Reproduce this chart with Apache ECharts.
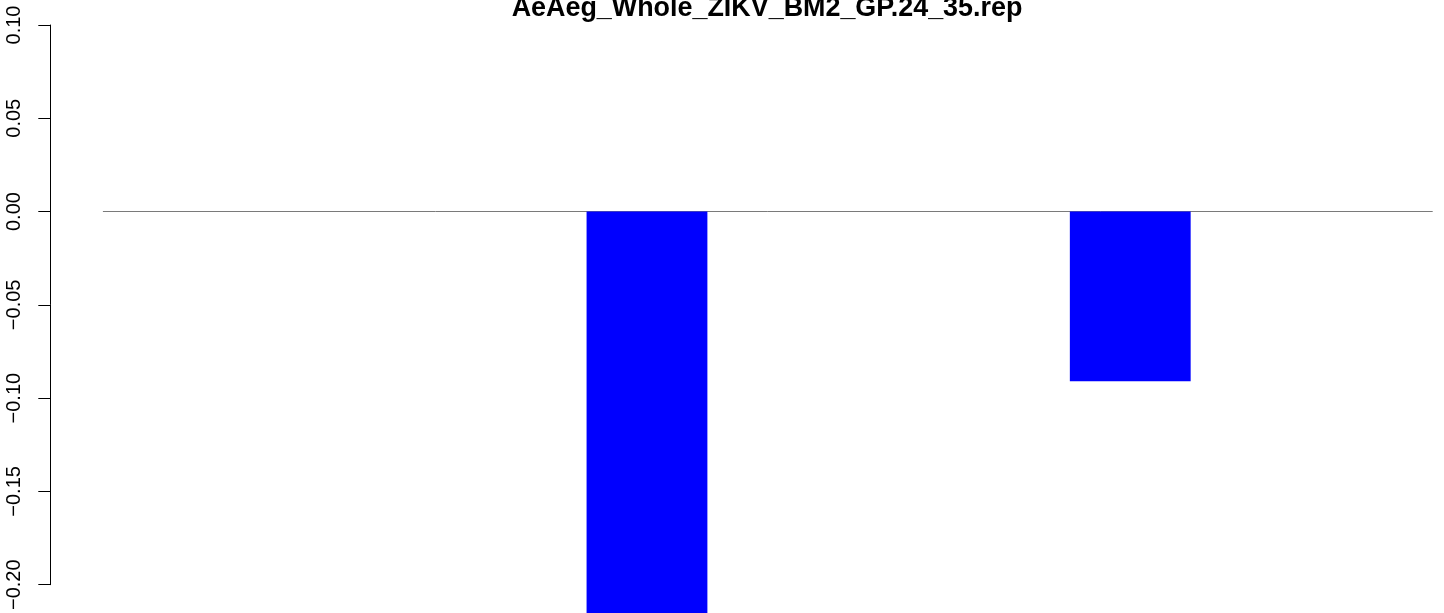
<!DOCTYPE html>
<html>
<head>
<meta charset="utf-8">
<script src="https://cdn.jsdelivr.net/npm/echarts@6/dist/echarts.min.js"></script>
<style>
html,body{margin:0;padding:0;background:#fff;}
#chart{width:1444px;height:613px;}
</style>
</head>
<body>
<div id="chart"></div>
<script>
var titleText = 'AeAeg_Whole_ZIKV_BM2_GP.24_35.rep';
var categories = ['1','2','3','4','5','6','7','8','9','10','11'];
var values = [null, null, null, null, -0.23, null, null, null, -0.091, null, null];
var yMin = -0.2, yMax = 0.1, yStep = 0.05;

var chart = echarts.init(document.getElementById('chart'), null, {renderer:'canvas'});
chart.setOption({
  animation: false,
  backgroundColor: '#ffffff',
  title: {
    text: titleText,
    left: 762,
    textAlign: 'center',
    top: -9,
    textStyle: {fontFamily: 'Liberation Sans, Arial, sans-serif', fontWeight: 'bold', fontSize: 26.9, color: '#000', lineHeight: 26}
  },
  grid: {left: 103.3, right: 11.7, top: 25, bottom: 25, containLabel: false},
  xAxis: {
    type: 'category',
    data: categories,
    boundaryGap: true,
    axisLine: {show: true, onZero: true, lineStyle: {color: '#7a7a7a', width: 1}},
    axisTick: {show: false},
    axisLabel: {show: false},
    splitLine: {show: false}
  },
  yAxis: {
    type: 'value',
    min: yMin, max: yMax, interval: yStep,
    offset: 53,
    axisLine: {show: true, lineStyle: {color: '#000', width: 1}},
    axisTick: {show: true, length: 12, lineStyle: {color: '#000', width: 1}},
    splitLine: {show: false},
    axisLabel: {
      rotate: 90,
      margin: 26,
      fontFamily: 'Liberation Sans, Arial, sans-serif',
      fontSize: 20,
      color: '#000',
      formatter: function (v) { return v.toFixed(2).replace('-', '\u2212'); }
    }
  },
  series: [{
    type: 'bar',
    data: values,
    barCategoryGap: 0,
    clip: false,
    itemStyle: {color: '#0000ff'}
  }]
});
</script>
</body>
</html>
